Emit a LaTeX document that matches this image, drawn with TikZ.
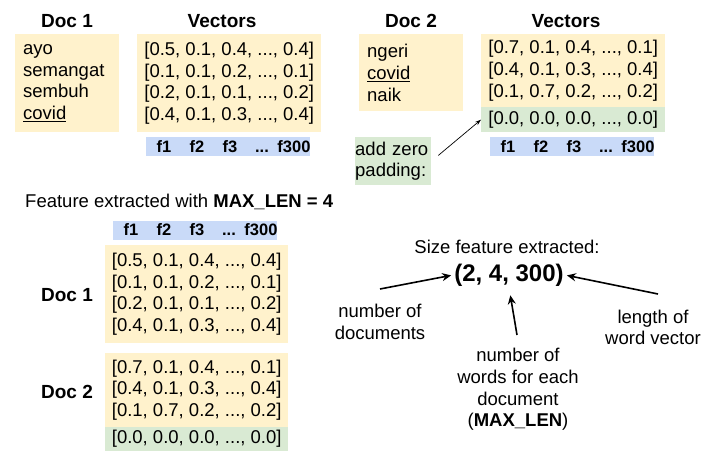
\documentclass[tikz,border=0pt]{standalone}
\usepackage{fontspec}
\setmainfont{Liberation Sans}
\usetikzlibrary{arrows.meta}
\definecolor{padyellow}{HTML}{FFF2CC}
\definecolor{padgreen}{HTML}{D9EAD3}
\definecolor{featblue}{HTML}{C9DAF8}
\tikzset{
	title/.style={font=\fontsize{19}{22}\selectfont\bfseries},
	plain/.style={font=\fontsize{18.5}{21.7}\selectfont, inner sep=0pt},
	wordbox/.style={plain, fill=padyellow, anchor=north west, align=left,
		minimum width=104pt, text width=88pt, inner xsep=8pt},
	vecbox/.style={plain, fill=padyellow, anchor=north west, align=left,
		minimum width=184pt},
	padbox/.style={vecbox, fill=padgreen},
	featlabel/.style={font=\fontsize{16.5}{18}\selectfont\bfseries, inner sep=0pt, anchor=base},
	bigarrow/.style={-{Stealth[length=9pt, width=8pt]}, line width=1.6pt},
	thinarrow/.style={-{Stealth[length=6pt, width=4pt]}, line width=0.7pt}
}
% feature header row: box plus f-labels
\newcommand{\featrow}[1]{%
	\node[fill=featblue, anchor=north west, minimum width=164pt, minimum height=19pt,
		inner sep=0pt] (#1) at (0,0) {};
	\foreach \lab/\dx [count=\i] in {f1/18, f2/51, f3/84, {...}/116, f300/148}
		\node[featlabel] (#1-\i) at (\dx, 15.5) {\lab};
}
\begin{document}
\begin{tikzpicture}[x=1pt, y=-1pt]
	\useasboundingbox (0,0) rectangle (709,462);
	% top left: Doc 1
	\node[title] (docA) at (67,21) {Doc 1};
	\node[title] (vecA) at (222,21) {Vectors};
	\node[wordbox, minimum height=98pt] (wordsA) at (15,34)
		{ayo\\semangat\\sembuh\\\underline{covid}};
	\node[vecbox, minimum height=98pt] (rowsA) at (137,34)
		{[0.5, 0.1, 0.4, ..., 0.4]\\{}[0.1, 0.1, 0.2, ..., 0.1]\\{}[0.2, 0.1, 0.1, ..., 0.2]\\{}[0.4, 0.1, 0.3, ..., 0.4]};
	\begin{scope}[shift={(146,137)}]
		\featrow{featA}
	\end{scope}
	% top right: Doc 2
	\node[title] (docB) at (411,21) {Doc 2};
	\node[title] (vecB) at (566,21) {Vectors};
	\node[wordbox, minimum height=77pt] (wordsB) at (359,34)
		{ngeri\\\underline{covid}\\naik};
	\node[vecbox, minimum height=73pt] (rowsB) at (481,34)
		{[0.7, 0.1, 0.4, ..., 0.1]\\{}[0.4, 0.1, 0.3, ..., 0.4]\\{}[0.1, 0.7, 0.2, ..., 0.2]};
	\node[padbox, minimum height=25pt] (zeroB) at (481,107) {[0.0, 0.0, 0.0, ..., 0.0]};
	\begin{scope}[shift={(490,137)}]
		\featrow{featB}
	\end{scope}
	\node[plain, fill=padgreen, anchor=north west, align=left, text width=76pt,
		minimum height=48pt, inner xsep=0pt] (padnote) at (355,137) {add zero\\padding:};
	\draw[thinarrow, shorten <=9pt] (padnote.east) -- (zeroB.west);
	% bottom left: extracted feature
	\node[plain, anchor=west] (maxlen) at (25,202)
		{Feature extracted with \textbf{MAX\_LEN = 4}};
	\begin{scope}[shift={(113,220.5)}]
		\featrow{featC}
	\end{scope}
	\node[vecbox, minimum width=183pt, minimum height=98pt] (rowsC) at (105,245)
		{[0.5, 0.1, 0.4, ..., 0.4]\\{}[0.1, 0.1, 0.2, ..., 0.1]\\{}[0.2, 0.1, 0.1, ..., 0.2]\\{}[0.4, 0.1, 0.3, ..., 0.4]};
	\node[vecbox, minimum width=183pt, minimum height=74pt] (rowsD) at (105,353)
		{[0.7, 0.1, 0.4, ..., 0.1]\\{}[0.4, 0.1, 0.3, ..., 0.4]\\{}[0.1, 0.7, 0.2, ..., 0.2]};
	\node[padbox, minimum width=183pt, minimum height=24pt] (zeroD) at (105,427)
		{[0.0, 0.0, 0.0, ..., 0.0]};
	\node[title] (docC) at (67,295) {Doc 1};
	\node[title] (docD) at (67,392) {Doc 2};
	% bottom right: size of the feature
	\node[plain] (sizelbl) at (507,247) {Size feature extracted:};
	\node[font=\fontsize{24}{28}\selectfont\bfseries, inner sep=1pt] (tuple) at (509,275) {(2, 4, 300)};
	\node[plain, align=center] (ndocs) at (380,322) {number of\\documents};
	\node[plain, align=center] (lenvec) at (653,327.5) {length of\\word vector};
	\node[plain, align=center] (nwords) at (518,389.5)
		{number of\\words for each\\document\\(\textbf{MAX\_LEN})};
	\coordinate (docs-tail) at (380,289);
	\coordinate (words-tail) at (517,335);
	\coordinate (len-tail) at (658,294);
	\draw[bigarrow, shorten >=2pt] (docs-tail) -- (tuple.west);
	\draw[bigarrow, shorten >=8pt] (words-tail) -- (tuple.south);
	\draw[bigarrow, shorten >=2pt] (len-tail) -- (tuple.east);
\end{tikzpicture}
\end{document}
